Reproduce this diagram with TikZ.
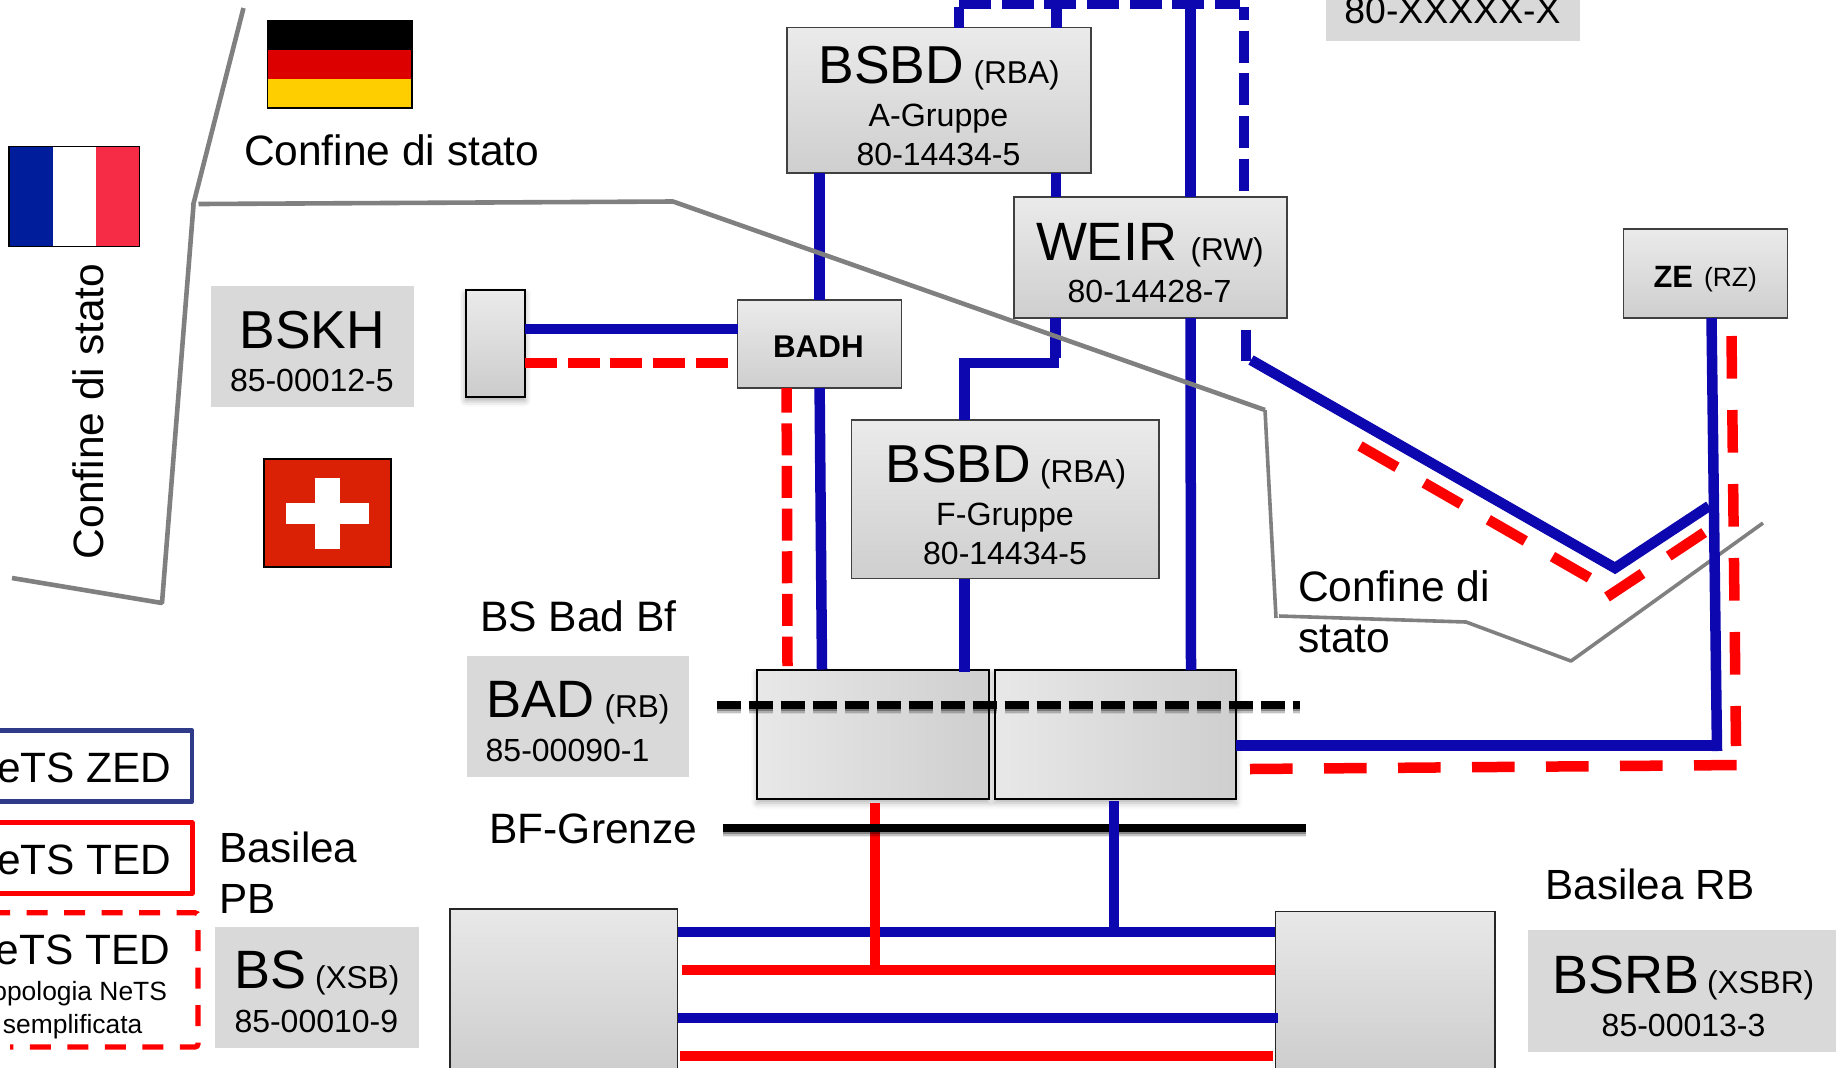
\documentclass[tikz,border=0pt]{standalone}
\usepackage{fontspec}
\setmainfont{Liberation Sans}
\usetikzlibrary{shadows.blur}
\newcommand{\fs}[1]{\fontsize{#1}{#1}\selectfont}
% \mybox[style]{name}{x1}{y1}{x2}{y2}
\newcommand{\mybox}[6][]{\node[inner sep=0pt,outer sep=0pt,minimum width={(#5-#3)*0.5pt},minimum height={(#6-#4)*0.5pt},#1] (#2) at ({(#3+#5)/2},{(#4+#6)/2}) {};}
\definecolor{netsblue}{HTML}{0D07B0}
\definecolor{legblue}{HTML}{2F3A88}
\definecolor{bordergrey}{HTML}{808080}
\definecolor{labelgrey}{HTML}{D9D9D9}
\tikzset{
  x=0.5pt,y=-0.5pt,
  lab/.style={inner sep=0pt,outer sep=0pt,anchor=base west,text=black},
  labc/.style={lab,anchor=base},
  labe/.style={lab,anchor=base east},
  blue line/.style={draw=netsblue,line width=5.25pt},
  red line/.style={draw=red,line width=5.25pt},
  blue dash/.style={blue line,dash pattern=on 16pt off 5.33pt},
  red dash/.style={red line,dash pattern=on 16pt off 5.33pt},
  red long/.style={red line,dash pattern=on 21.3pt off 15.7pt},
  border line/.style={draw=bordergrey,line width=2.3pt,line join=bevel},
  thin border/.style={draw=bordergrey,line width=1.8pt,line join=bevel},
  station/.style={draw=black!75,line width=0.7pt,top color=black!8,bottom color=black!19},
  track box/.style={draw=black,line width=1pt,left color=black!9,right color=black!19,
     blur shadow={shadow xshift=0pt,shadow yshift=-2pt,shadow blur radius=3pt,shadow opacity=30}},
  small box/.style={draw=black,line width=1pt,top color=black!8,bottom color=black!20,
     blur shadow={shadow xshift=0pt,shadow yshift=-2pt,shadow blur radius=3pt,shadow opacity=35}},
  end box/.style={draw=black!85,line width=0.8pt,top color=black!9,bottom color=black!20},
  name label/.style={fill=labelgrey},
}
\begin{document}
\begin{tikzpicture}
\path[use as bounding box,clip] (0,0) rectangle (1836,1067);

% ---- flags
\fill[black] (267.5,21) rectangle (412,50);
\fill[fill={rgb,255:red,221;green,0;blue,0}] (267.5,50) rectangle (412,79);
\fill[fill={rgb,255:red,255;green,206;blue,0}] (267.5,79) rectangle (412,108);
\draw[black,line width=0.6pt] (267.5,21) rectangle (412,108);
\fill[fill={rgb,255:red,0;green,30;blue,155}] (9,146.5) rectangle (53,246.5);
\fill[white] (53,146.5) rectangle (96,246.5);
\fill[fill={rgb,255:red,246;green,44;blue,70}] (96,146.5) rectangle (139.5,246.5);
\draw[black,line width=0.6pt] (9,146.5) rectangle (139.5,246.5);
\fill[fill={rgb,255:red,218;green,32;blue,5}] (264,459) rectangle (391,567);
\fill[white] (286,503) rectangle (369,524);
\fill[white] (315,478) rectangle (340,549);
\draw[black,line width=0.7pt] (264,459) rectangle (391,567);

% ---- grey labels
\mybox[name label]{bskhbox}{211}{285.5}{413.5}{406.5}
\mybox[name label]{badbox}{467}{656}{689}{776.5}
\mybox[name label]{bsbox}{215}{927}{419}{1047.5}
\mybox[name label]{bsrbbox}{1528}{930}{1840}{1051.5}
\mybox[name label]{xxbox}{1326}{-5}{1580}{40.7}

% ---- stations
\mybox[station]{bsbdA}{787}{27.5}{1091}{173}
\mybox[station]{weir}{1014}{197}{1287}{318}
\mybox[station]{badh}{737.5}{300}{901.7}{388}
\mybox[station]{bsbdF}{851.5}{420}{1159}{578.5}
\mybox[station]{ze}{1623.5}{229}{1787.4}{318}
\mybox[small box]{kh}{465.5}{290}{525}{396.5}
\mybox[track box]{binL}{757}{669.5}{988.6}{799}
\mybox[track box]{binR}{994.6}{669.5}{1236}{799}
\mybox[end box]{pb}{450}{909}{677.5}{1080}
\mybox[end box]{rb}{1275.3}{911.5}{1495}{1080}

% ---- free ends
\coordinate (t1) at (1056.7,0);
\coordinate (t2) at (1190.5,0);
\coordinate (t3) at (959,7);
\coordinate (d1) at (959,4);
\coordinate (d2) at (1240,4);
\coordinate (d3) at (1244,7);
\coordinate (d4) at (1244,191);
\coordinate (w1) at (1246,330);
\coordinate (w2) at (1246,361);
\coordinate (w3) at (1251,360);
\coordinate (w4) at (1615,568);
\coordinate (w5) at (1709,506);
\coordinate (z1) at (1717,751);
\coordinate (z2) at (1722,745.7);
\coordinate (c1) at (1059,363);
\coordinate (c2) at (959.5,363);

% ---- lower grey border (under the lines)
\draw[thin border] (1279,616) -- (1466,622) -- (1571,661) -- (1763,523);

% ---- blue connectors, top
\draw[blue line] (t1) -- (1056.7,0 |- bsbdA.north);
\draw[blue line] (t2) -- (1190.5,0 |- weir.north);
\draw[blue line] (t3) -- (959,0 |- bsbdA.north);
\draw[blue dash] (d1) -- (d2);
\draw[blue dash,dash phase=9.5pt] (d3) -- (d4);
\draw[blue line] (1056,0 |- bsbdA.south) -- (1056,0 |- weir.north);
\draw[blue line] (819.4,0 |- bsbdA.south) -- (819.4,0 |- badh.north);
\draw[blue line] (1055.5,0 |- weir.south) -- (1055.5,358);
\draw[blue line] (c1) -- (c2);
\draw[blue line] (964.5,358) -- (964.5,0 |- bsbdF.north);
\draw[blue line] (964.5,0 |- bsbdF.south) -- (964.5,672);
\draw[blue line] (1190.5,0 |- weir.south) -- (1191,670);
\draw[blue line] (819.6,0 |- badh.south) -- (822,0 |- binL.north);
\draw[blue line] (w1) -- (w2);
\draw[blue line] (w3) -- (w4) -- (w5);
\draw[blue line] (1711.5,0 |- ze.south) -- (z1);
\draw[blue line] (binR.east |- z2) -- (z2);
\draw[blue line] (kh.east |- 0,329) -- (badh.west |- 0,329);

% ---- red dashed connectors
\draw[red dash,dash phase=3.7pt] (786.6,0 |- badh.south) -- (787.5,666);
\draw[red dash] (kh.east |- 0,363) -- (728,363);
\draw[red long] (1360,446) -- (1591.5,579);
\draw[red long] (1607,597) -- (1705,532);
\draw[red long] (1731.5,336) -- (1736,746);
\draw[red long] (1250,769) -- (1740,765);

% ---- bottom tracks
\draw[blue line] (pb.east |- 0,932) -- (rb.west |- 0,932);
\draw[blue line] (pb.east |- 0,1018) -- (1278,1018);
\draw[red line] (682,970) -- (rb.west |- 0,970);
\draw[red line] (680,1056) -- (1273,1056);
\draw[red line] (875,803) -- (875,965);

% ---- black borders with a soft shadow
\foreach \o/\d in {5/8,3.5/18,2/30}{
  \draw[black,opacity=\d/100,line width=4pt] (722.5,828+\o) -- (1306,828+\o);
  \draw[black,opacity=\d/100,line width=4pt,dash pattern=on 12pt off 4pt] (716.6,705+\o) -- (1300,705+\o);
}
\draw[black,line width=4pt] (722.5,828) -- (1306,828);
\draw[black,line width=4pt,dash pattern=on 12pt off 4pt] (716.6,705) -- (1300,705);
\draw[blue line] (1114,801) -- (1114,937);

% ---- upper grey borders
\draw[border line] (243.5,8) -- (193,205.6);
\draw[border line] (193.5,205) -- (162,603) -- (12,578);
\draw[border line] (198.5,204) -- (673,201.5) -- (1265,410);
\draw[thin border] (1265,410) -- (1276,618);

% ---- legend
\draw[legblue,line width=2.3pt,line join=round] (-10,730.7) -- (192,730.7) -- (192,801.7) -- (-10,801.7);
\draw[red,line width=2.5pt,line join=round] (-10,822.7) -- (192,822.7) -- (192,893) -- (-10,893);
\draw[red,line width=2.6pt,rounded corners=1.5pt,dash pattern=on 10.5pt off 8.25pt] (-11,912.7) -- (198,912.7) -- (198,1047) -- (10,1047);

% ---- texts
\node[lab] (tConfA) at (244,165) {\fs{21.25}Confine di stato};
\node[lab,rotate=90] (tConfB) at (103.6,559) {\fs{21.25}Confine di stato};
\node[lab] (tConfC) at (1298,601) {\fs{21.3}Confine di};
\node[lab] (tConfD) at (1298,652) {\fs{21.3}stato};
\node[lab] (tBadBf) at (480,631.5) {\fs{21.3}BS Bad Bf};
\node[lab] (tBfG) at (489.5,843) {\fs{21.25}BF-Grenze};
\node[lab] (tBaPa) at (219,862.7) {\fs{21.1}Basilea};
\node[lab] (tBaPb) at (219,913) {\fs{21.1}PB};
\node[lab] (tBaR) at (1545.5,899) {\fs{21.1}Basilea RB};

\node[lab] (n1a) at (818.5,83) {\fs{26.7}BSBD};
\node[lab] (n1b) at (973.6,83) {\fs{15.8}(RBA)};
\node[labc] (n1c) at (938.5,126) {\fs{16.1}A-Gruppe};
\node[labc] (n1d) at (938.5,165) {\fs{16}80-14434-5};

\node[lab] (n2a) at (1036,260) {\fs{27}WEIR};
\node[lab] (n2b) at (1190.5,260) {\fs{15.8}(RW)};
\node[labc] (n2c) at (1149.5,302.5) {\fs{16}80-14428-7};

\node[lab] (n3a) at (773,357.5) {\fs{15.7}\bfseries BADH};

\node[lab] (n4a) at (885.5,482.5) {\fs{26.7}BSBD};
\node[lab] (n4b) at (1040,482.5) {\fs{15.8}(RBA)};
\node[labc] (n4c) at (1005,525.5) {\fs{16.1}F-Gruppe};
\node[labc] (n4d) at (1005,564) {\fs{16}80-14434-5};

\node[lab] (n5a) at (1653.5,287) {\fs{15.4}\bfseries ZE};
\node[lab] (n5b) at (1704,286) {\fs{13.2}(RZ)};

\node[lab] (n6a) at (239.5,348) {\fs{26.7}BSKH};
\node[lab] (n6b) at (230,391.5) {\fs{16}85-00012-5};

\node[lab] (n7a) at (486,717) {\fs{26.3}BAD};
\node[lab] (n7b) at (604.5,717) {\fs{15.8}(RB)};
\node[lab] (n7c) at (485.7,761) {\fs{16}85-00090-1};

\node[lab] (n8a) at (234.5,988) {\fs{27}BS};
\node[lab] (n8b) at (315,988) {\fs{15.8}(XSB)};
\node[lab] (n8c) at (234.5,1032.7) {\fs{16}85-00010-9};

\node[lab] (n9a) at (1552,993) {\fs{27}BSRB};
\node[lab] (n9b) at (1707,993) {\fs{15.8}(XSBR)};
\node[lab] (n9c) at (1601.7,1036) {\fs{16}85-00013-3};

\node[labc] (n10) at (1452.5,23.5) {\fs{18.7}80-XXXXX-X};

\node[labe] (l1) at (171.5,782.7) {\fs{21.2}eTS ZED};
\node[labe] (l2) at (171.5,874) {\fs{21.2}eTS TED};
\node[labe] (l3) at (170,964) {\fs{21.2}eTS TED};
\node[labe] (l4) at (167,1000.7) {\fs{13.2}opologia NeTS};
\node[lab] (l5) at (3,1033) {\fs{13.2}semplificata};
\end{tikzpicture}
\end{document}
